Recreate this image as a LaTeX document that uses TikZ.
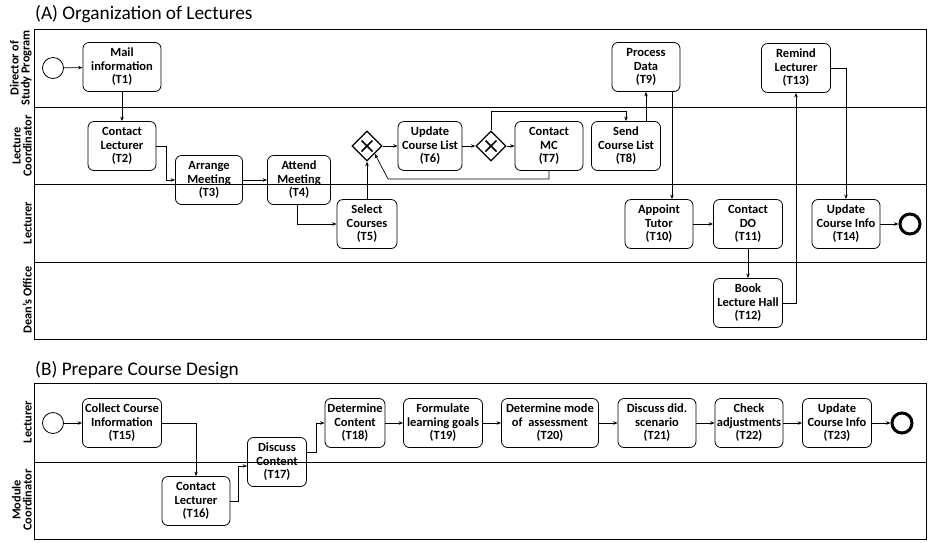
\documentclass[tikz,border=0pt]{standalone}
\usepackage{fontspec}
\setmainfont{Carlito}
\usetikzlibrary{shapes.geometric,arrows.meta}

\begin{document}
\begin{tikzpicture}[x=1pt,y=-1pt,
  task/.style={draw, rounded corners=6pt, align=center, minimum height=49pt, inner sep=1pt, line width=0.8pt,
    font=\bfseries\fontsize{12.5}{13.5}\selectfont},
  gate/.style={diamond, draw, line width=1.3pt, minimum size=30pt, inner sep=0pt,
    path picture={\draw[line width=1.5pt] (path picture bounding box.center) +(-5.5pt,-5.5pt) -- +(5.5pt,5.5pt)
      (path picture bounding box.center) +(-5.5pt,5.5pt) -- +(5.5pt,-5.5pt);}},
  start/.style={circle, draw, line width=0.8pt, minimum size=21pt, inner sep=0pt},
  stop/.style={circle, draw, line width=3pt, minimum size=20pt, inner sep=0pt},
  flow/.style={draw, line width=0.7pt, -{Stealth[length=4.5pt,width=3.5pt]}},
  lane/.style={rotate=90, anchor=south, align=center, inner sep=1pt,
    font=\bfseries\fontsize{12.3}{11}\selectfont},
  pool/.style={draw, line width=0.8pt}]
\useasboundingbox (0,0) rectangle (935,542);

\node[anchor=base west, inner sep=0pt, font=\fontsize{19.3}{21}\selectfont] (ta) at (35,19) {(A) Organization of Lectures};
\draw[pool] (34.5,29) rectangle (926,339);
\draw[pool] (34.5,107) -- (926,107) (34.5,184) -- (926,184) (34.5,262) -- (926,262);
\node[lane] (la1) at (33,68) {Director of\\Study Program};
\node[lane] (la2) at (33,146) {Lecture\\Coordinator};
\node[lane] (la3) at (33,223) {Lecturer};
\node[lane] (la4) at (33,300) {Dean's Office};

\node[start] (s1) at (53,68) {};
\node[task, minimum width=78pt] (t1) at (122,67) {Mail\\information\\(T1)};
\node[task, minimum width=68pt] (t2) at (122,146) {Contact\\Lecturer\\(T2)};
\node[task, minimum width=67pt] (t3) at (209,180) {Arrange\\Meeting\\(T3)};
\node[task, minimum width=63pt] (t4) at (299,180) {Attend\\Meeting\\(T4)};
\node[task, minimum width=60pt] (t5) at (367,224) {Select\\Courses\\(T5)};
\node[gate] (g1) at (367,146) {};
\node[task, minimum width=64pt] (t6) at (430,146) {Update\\Course List\\(T6)};
\node[gate] (g2) at (491,146) {};
\node[task, minimum width=68pt] (t7) at (549,146) {Contact\\MC\\(T7)};
\node[task, minimum width=69pt] (t8) at (626,146) {Send\\Course List\\(T8)};
\node[task, minimum width=68pt] (t9) at (646,67) {Process\\Data\\(T9)};
\node[task, minimum width=68pt] (t10) at (659,224) {Appoint\\Tutor\\(T10)};
\node[task, minimum width=69pt] (t11) at (748,224) {Contact\\DO\\(T11)};
\node[task, minimum width=69pt] (t12) at (748,303) {Book\\Lecture Hall\\(T12)};
\node[task, minimum width=69pt] (t13) at (796,68) {Remind\\Lecturer\\(T13)};
\node[task, minimum width=68pt] (t14) at (846,224) {Update\\Course Info\\(T14)};
\node[stop] (e1) at (910,224) {};

\draw[flow] (s1) -- (t1);
\draw[flow] (t1) -- (t2);
\draw[flow] (t2.east) -- ++(10,0) |- (t3.west);
\draw[flow] (t3) -- (t4);
\draw[flow] ([xshift=-2pt]t4.south) |- (t5.west);
\draw[flow] (t5) -- (g1);
\draw[flow] (g1) -- (t6);
\draw[flow] (t6) -- (g2);
\draw[flow] (g2) -- (t7);
\draw[flow] (t7.south) -- ++(0,8) -- ++(-161,0) -- (g1.south east);
\draw[flow] (g2.north) -- ++(0,-19) -| (t8.north);
\draw[flow] (t9.south |- t8.north) -- (t9.south);
\draw[flow] ([xshift=26pt]t9.south) -- ([xshift=26pt]t9.south |- t10.north);
\draw[flow] (t10) -- (t11);
\draw[flow] (t11) -- (t12);
\draw[flow] (t12.east) -| (t13.south);
\draw[flow] (t13.east) -| (t14.north);
\draw[flow] (t14) -- (e1);

\node[anchor=base west, inner sep=0pt, font=\fontsize{19.3}{21}\selectfont] (tb) at (35,375) {(B) Prepare Course Design};
\draw[pool] (34.5,383) rectangle (926,539);
\draw[pool] (34.5,462) -- (926,462);
\node[lane] (lb1) at (33,422) {Lecturer};
\node[lane] (lb2) at (33,500) {Module\\Coordinator};

\node[start] (s2) at (53,423) {};
\node[task, minimum width=79pt] (t15) at (122,423) {Collect Course\\Information\\(T15)};
\node[task, minimum width=68pt] (t16) at (196,501) {Contact\\Lecturer\\(T16)};
\node[task, minimum width=59pt] (t17) at (277,462) {Discuss\\Content\\(T17)};
\node[task, minimum width=60pt] (t18) at (355,423) {Determine\\Content\\(T18)};
\node[task, minimum width=79pt] (t19) at (443,423) {Formulate\\learning goals\\(T19)};
\node[task, minimum width=97pt] (t20) at (550,423) {Determine mode\\of~ assessment\\(T20)};
\node[task, minimum width=78pt] (t21) at (657,423) {Discuss did.\\scenario\\(T21)};
\node[task, minimum width=68pt] (t22) at (749,423) {Check\\adjustments\\(T22)};
\node[task, minimum width=69pt] (t23) at (837,423) {Update\\Course Info\\(T23)};
\node[stop] (e2) at (902,423) {};

\draw[flow] (s2) -- (t15);
\draw[flow] (t15.east) -| (t16.north);
\draw[flow] (t16.east) -- ++(8,0) |- ([yshift=-4pt]t17.west);
\draw[flow] ([yshift=10pt]t17.east) -- ++(9,0) |- (t18.west);
\draw[flow] (t18) -- (t19);
\draw[flow] (t19) -- (t20);
\draw[flow] (t20) -- (t21);
\draw[flow] (t21) -- (t22);
\draw[flow] (t22) -- (t23);
\draw[flow] (t23) -- (e2);
\end{tikzpicture}
\end{document}
